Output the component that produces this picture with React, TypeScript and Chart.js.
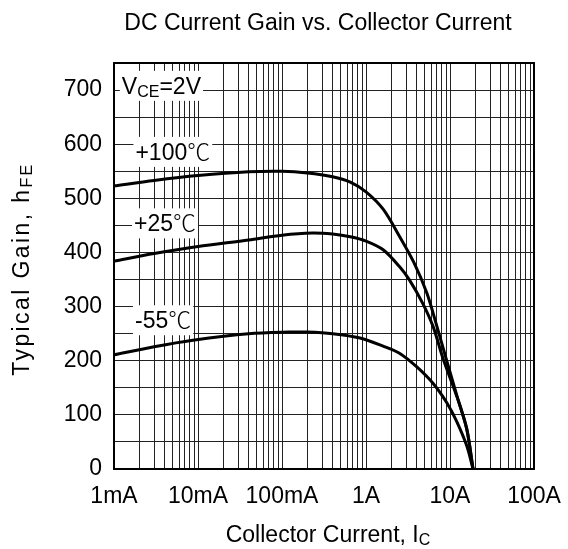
import React, { useEffect, useRef } from 'react';
import { Chart, registerables } from 'chart.js';

Chart.register(...registerables);

const FONT = "'Liberation Sans', Arial, 'Noto Sans CJK SC', sans-serif";
const DEG_FONT = "'Noto Sans CJK SC', 'Noto Sans CJK JP', 'DejaVu Sans', sans-serif";

const chartTitle = 'DC Current Gain vs. Collector Current';
const xTitleMain = 'Collector Current, I';
const xTitleSub = 'C';
const yTitleMain = 'Typical Gain, h';
const yTitleSub = 'FE';

const xDecades = [0.001, 0.01, 0.1, 1, 10, 100];
const xTickLabels = ['1mA', '10mA', '100mA', '1A', '10A', '100A'];
const xMinorMantissas = [1, 2, 3, 4, 5, 6, 7, 8, 9];
const yGridValues = [0, 50, 100, 150, 200, 250, 300, 350, 400, 450, 500, 550, 600, 650, 700, 750];
const yLabelValues = [0, 100, 200, 300, 400, 500, 600, 700];

// Collector current (A) and gain for each temperature
const current100 = [0.001, 0.003, 0.01, 0.04, 0.1, 0.2, 0.4, 0.65, 1.0, 1.6, 2.5, 3.7, 5.3, 7.0, 9.1, 12, 15.8, 18.8];
const gain100 = [523, 533, 542, 549, 550, 547, 540, 530, 512, 480, 430, 382, 325, 263, 201, 137, 75, 0];

const current25 = [0.001, 0.003, 0.01, 0.04, 0.1, 0.23, 0.4, 0.65, 1.0, 1.6, 2.5, 3.3, 4.7, 6.3, 8.3, 12, 15.8, 18.8];
const gain25 = [384, 398, 411, 423, 432, 436, 434, 429, 421, 405, 374, 349, 307, 263, 203, 135, 74, 0];

const currentM55 = [0.001, 0.003, 0.0087, 0.04, 0.12, 0.2, 0.4, 0.85, 1.6, 2.5, 4.0, 6.3, 9.2, 12, 15.9, 18.8];
const gainM55 = [211, 226, 238, 250, 253, 253, 250, 242, 227, 214, 189, 158, 122, 88, 42, 0];

const seriesTemps = ['+100', '+25', '-55'];
const degUnit = '℃';
const seriesNames = seriesTemps.map((t) => t + degUnit);

type Part = { t: string; sub?: boolean; deg?: boolean };

// annotation anchors in data coordinates (left edge, text baseline)
const annotations: { x: number; y: number; parts: Part[] }[] = [
  { x: 0.00124, y: 693, parts: [{ t: 'V' }, { t: 'CE', sub: true }, { t: '=2V' }] },
  { x: 0.0018, y: 571, parts: [{ t: seriesTemps[0] }, { t: degUnit, deg: true }] },
  { x: 0.00173, y: 439, parts: [{ t: seriesTemps[1] }, { t: degUnit, deg: true }] },
  { x: 0.00178, y: 260, parts: [{ t: seriesTemps[2] }, { t: degUnit, deg: true }] },
];

const MAIN_SIZE = 23;
const SUB_SIZE = 16;

function toPoints(xs: number[], ys: number[]) {
  return xs.map((v, i) => ({ x: v, y: ys[i] }));
}

function setPartFont(ctx: CanvasRenderingContext2D, p: Part) {
  if (p.deg) ctx.font = `300 ${MAIN_SIZE}px ${DEG_FONT}`;
  else ctx.font = `${p.sub ? SUB_SIZE : MAIN_SIZE}px ${FONT}`;
}
function drawParts(ctx: CanvasRenderingContext2D, parts: Part[], x: number, y: number) {
  let cx = x;
  for (const p of parts) {
    setPartFont(ctx, p);
    ctx.fillText(p.t, cx, y + (p.sub ? 3 : 0));
    cx += ctx.measureText(p.t).width;
  }
}
function measureParts(ctx: CanvasRenderingContext2D, parts: Part[]) {
  let w = 0;
  for (const p of parts) {
    setPartFont(ctx, p);
    w += ctx.measureText(p.t).width;
  }
  return w;
}

const decorPlugin = {
  id: 'decor',
  beforeDatasetsDraw(chart: any) {
    const { ctx, scales } = chart;
    const xs = scales.x;
    const ys = scales.y;
    ctx.save();
    ctx.textAlign = 'left';
    ctx.textBaseline = 'alphabetic';
    for (const a of annotations) {
      const px = xs.getPixelForValue(a.x);
      const py = ys.getPixelForValue(a.y);
      const w = measureParts(ctx, a.parts);
      ctx.fillStyle = '#ffffff';
      ctx.fillRect(px - 2, py - 23, w + 4, 30);
      ctx.fillStyle = '#000000';
      drawParts(ctx, a.parts, px, py);
    }
    ctx.restore();
  },
  afterDatasetsDraw(chart: any) {
    const { ctx, chartArea } = chart;
    ctx.save();
    ctx.strokeStyle = '#000';
    ctx.lineWidth = 2;
    ctx.strokeRect(chartArea.left, chartArea.top, chartArea.right - chartArea.left, chartArea.bottom - chartArea.top);
    ctx.restore();
  },
  afterDraw(chart: any) {
    const { ctx, chartArea } = chart;
    ctx.save();
    ctx.fillStyle = '#000';
    ctx.textAlign = 'left';
    ctx.textBaseline = 'alphabetic';
    // chart title
    ctx.font = `${MAIN_SIZE}px ${FONT}`;
    const tw = ctx.measureText(chartTitle).width;
    ctx.fillText(chartTitle, 318 - tw / 2, 30);
    // x title
    const xParts: Part[] = [{ t: xTitleMain }, { t: xTitleSub, sub: true }];
    const xw = measureParts(ctx, xParts);
    const cx = (chartArea.left + chartArea.right) / 2 + 4;
    drawParts(ctx, xParts, cx - xw / 2, 541.5);
    // y title
    ctx.translate(28.5, 269);
    ctx.rotate(-Math.PI / 2);
    (ctx as any).letterSpacing = '2.4px';
    const yParts: Part[] = [{ t: yTitleMain }, { t: yTitleSub, sub: true }];
    const yw = measureParts(ctx, yParts);
    drawParts(ctx, yParts, -yw / 2, 0);
    ctx.restore();
  },
};

export default function App() {
  const ref = useRef<HTMLCanvasElement | null>(null);
  useEffect(() => {
    if (!ref.current) return;
    const lineStyle = {
      borderColor: '#000',
      backgroundColor: '#000',
      borderWidth: 3,
      pointRadius: 0,
      fill: false,
      tension: 0.3,
    };
    const chart = new Chart(ref.current, {
      type: 'line',
      data: {
        datasets: [
          { label: seriesNames[0], data: toPoints(current100, gain100), ...lineStyle },
          { label: seriesNames[1], data: toPoints(current25, gain25), ...lineStyle },
          { label: seriesNames[2], data: toPoints(currentM55, gainM55), ...lineStyle },
        ],
      },
      options: {
        animation: false,
        responsive: false,
        maintainAspectRatio: false,
        layout: { padding: { left: 0, right: 34, top: 63, bottom: 0 } },
        plugins: {
          legend: { display: false },
          tooltip: { enabled: false },
          title: { display: false, text: chartTitle },
        },
        scales: {
          x: {
            type: 'logarithmic',
            min: xDecades[0],
            max: xDecades[xDecades.length - 1],
            afterBuildTicks: (scale: any) => {
              const ticks: { value: number }[] = [];
              for (let d = 0; d < xDecades.length - 1; d++) {
                for (const m of xMinorMantissas) {
                  ticks.push({ value: Number((m * xDecades[d]).toPrecision(3)) });
                }
              }
              ticks.push({ value: xDecades[xDecades.length - 1] });
              scale.ticks = ticks;
            },
            afterFit: (scale: any) => {
              scale.height = 80;
              scale.paddingLeft = 0;
              scale.paddingRight = 0;
            },
            grid: { color: '#222', lineWidth: 1, drawTicks: false },
            border: { display: false },
            ticks: {
              autoSkip: false,
              maxRotation: 0,
              minRotation: 0,
              padding: 14,
              color: '#000',
              font: { family: FONT, size: MAIN_SIZE },
              callback: (value: any) => {
                const idx = xDecades.findIndex((d) => Math.abs(d - Number(value)) / d < 1e-6);
                return idx >= 0 ? xTickLabels[idx] : '';
              },
            },
          },
          y: {
            type: 'linear',
            min: yGridValues[0],
            max: yGridValues[yGridValues.length - 1],
            afterBuildTicks: (scale: any) => {
              scale.ticks = yGridValues.map((v) => ({ value: v }));
            },
            afterFit: (scale: any) => {
              scale.width = 114;
              scale.paddingTop = 0;
              scale.paddingBottom = 0;
            },
            grid: { color: '#222', lineWidth: 1, drawTicks: false },
            border: { display: false },
            ticks: {
              autoSkip: false,
              padding: 12,
              color: '#000',
              font: { family: FONT, size: MAIN_SIZE },
              callback: (value: any) => (yLabelValues.includes(Number(value)) ? String(value) : ''),
            },
          },
        },
      },
      plugins: [decorPlugin],
    });
    return () => chart.destroy();
  }, []);
  return (
    <div style={{ position: 'absolute', left: 0, top: 0, width: 568, height: 549, background: '#fff' }}>
      <canvas ref={ref} width={568} height={549} />
    </div>
  );
}
